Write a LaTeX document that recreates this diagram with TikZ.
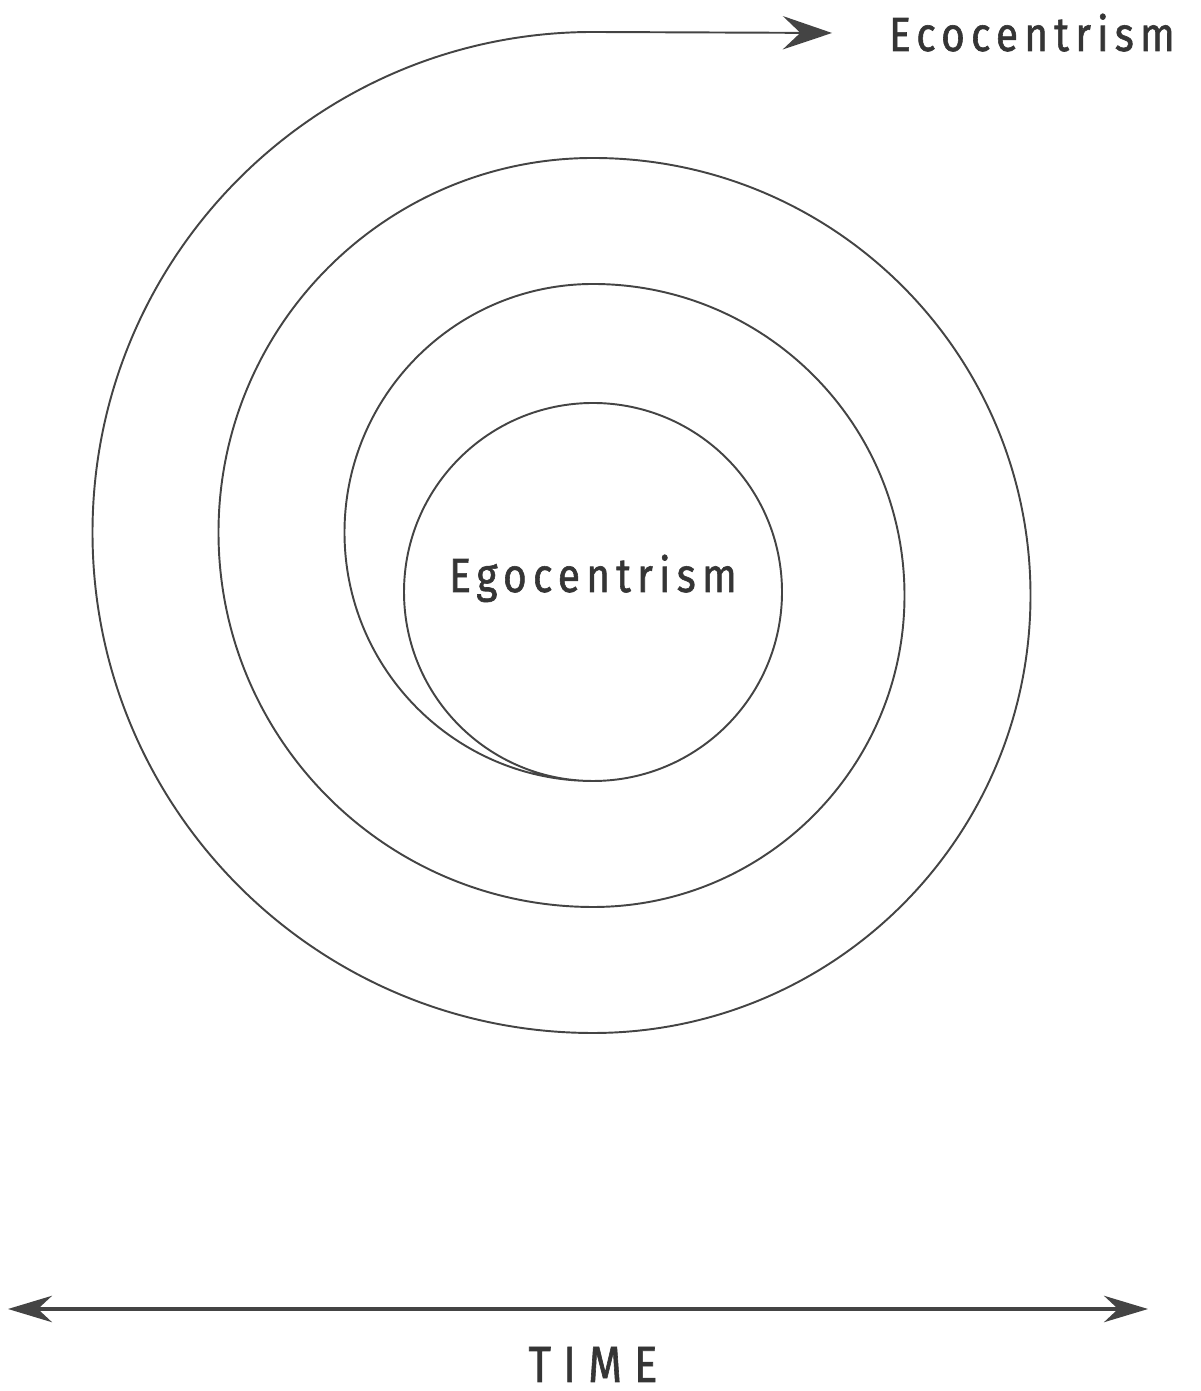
\documentclass[tikz,border=0pt]{standalone}
\usepackage{fontspec}
\usetikzlibrary{arrows.meta}
\newfontfamily\labfont[FakeStretch=0.85,LetterSpace=13,FakeBold=1.2]{Fira Sans}
\newfontfamily\timefont[FakeStretch=0.85,LetterSpace=24,FakeBold=1.2]{Fira Sans}
\definecolor{ink}{HTML}{444444}
\definecolor{txt}{HTML}{353535}
\tikzset{
  spiralline/.style={draw=ink,line width=0.55pt},
  timeline/.style={draw=ink,line width=0.9pt,{Stealth[length=12.5pt,width=7.5pt,inset=4pt]}-{Stealth[length=12.5pt,width=7.5pt,inset=4pt]}},
  lab/.style={text=txt,font=\labfont\fontsize{13.6pt}{16pt}\selectfont,inner sep=0pt,anchor=base},
  timelab/.style={text=txt,font=\timefont\fontsize{14.5pt}{17pt}\selectfont,inner sep=0pt,anchor=base}
}
\begin{document}
\begin{tikzpicture}[x=0.01cm,y=0.01cm]
\useasboundingbox (0,0) rectangle (1201,1391);
% spiral
\coordinate (s0) at (593,610);
\coordinate (tipE) at (832,1358);
\draw[spiralline] (s0)
  arc[start angle=-90,end angle=-450,radius=189]
  arc[start angle=270,end angle=90,radius=248.5]
  arc[start angle=90,end angle=-90,radius=311.5]
  arc[start angle=270,end angle=90,radius=374.5]
  arc[start angle=90,end angle=-90,radius=437.5]
  arc[start angle=270,end angle=90,radius=500.5]
  coordinate (send);
\draw[spiralline,-{Stealth[length=14pt,width=9.5pt,inset=5pt]}] (send) -- (tipE);
% labels
\node[lab] (ego) at (593,799) {Egocentrism};
\node[lab] (eco) at (1032,1340) {Ecocentrism};
% time axis
\coordinate (tl) at (8,82);
\coordinate (tr) at (1148,82);
\draw[timeline] (tl) -- (tr);
\node[timelab] (time) at (593,9) {TIME};
\end{tikzpicture}
\end{document}
